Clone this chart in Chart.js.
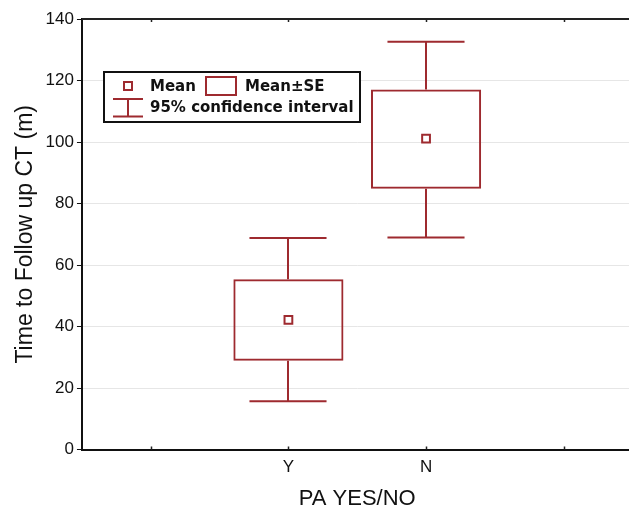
<!DOCTYPE html>
<html lang="en">
<head>
<meta charset="UTF-8">
<title>Time to Follow up CT</title>
<script src="https://cdn.jsdelivr.net/npm/chart.js@4.4.1/dist/chart.umd.min.js"></script>
<style>
    html, body { margin: 0; padding: 0; background: #fff; overflow: hidden; }
    /* plot runs past the right edge of the window, as in the original */
    .chart-wrap { position: relative; width: 640px; height: 507px; }
</style>
</head>
<body>
<div class="chart-wrap"><canvas id="ciChart"></canvas></div>
<script>
// --- data ---
const groups = ['', 'Y', 'N', ''];
const means  = [null, 42.2, 101.1, null];
const seLow  = [null, 28.9, 84.8, null];
const seHigh = [null, 55.4, 117.1, null];
const ciLow  = [null, 15.7, 69.0, null];
const ciHigh = [null, 68.8, 132.6, null];
const yMin = 0, yMax = 140, yStep = 20;

const RED = '#9e2a2f';
const AXIS_FONT = '"Liberation Sans", Arial, sans-serif';

// whiskers (95% CI) drawn from the scales
const whiskers = {
    id: 'whiskers',
    afterDatasetsDraw(chart) {
        const { ctx, scales: { x, y } } = chart;
        const bars = chart.getDatasetMeta(0).data;
        ctx.save();
        ctx.strokeStyle = RED;
        ctx.lineWidth = 2;
        groups.forEach((g, i) => {
            if (ciLow[i] == null) return;
            const cx = Math.round(x.getPixelForValue(i));
            const half = bars[i].width * 0.35;
            const yHi = y.getPixelForValue(ciHigh[i]);
            const yLo = y.getPixelForValue(ciLow[i]);
            ctx.beginPath();
            ctx.moveTo(cx, y.getPixelForValue(seHigh[i])); ctx.lineTo(cx, yHi);
            ctx.moveTo(cx - half, yHi); ctx.lineTo(cx + half, yHi);
            ctx.moveTo(cx, y.getPixelForValue(seLow[i])); ctx.lineTo(cx, yLo);
            ctx.moveTo(cx - half, yLo); ctx.lineTo(cx + half, yLo);
            ctx.stroke();
        });
        ctx.restore();
    }
};

// top frame line, inner ticks and the legend box
const frameAndLegend = {
    id: 'frameAndLegend',
    afterDraw(chart) {
        const { ctx, chartArea: a, scales: { x } } = chart;
        ctx.save();
        ctx.strokeStyle = '#222';
        ctx.lineWidth = 2;
        ctx.beginPath();
        ctx.moveTo(a.left, a.top); ctx.lineTo(a.right, a.top);
        ctx.stroke();
        ctx.lineWidth = 1.5;
        groups.forEach((g, i) => {
            const px = Math.round(x.getPixelForValue(i)) + 0.5;
            ctx.beginPath();
            ctx.moveTo(px, a.top); ctx.lineTo(px, a.top + 3);
            ctx.moveTo(px, a.bottom); ctx.lineTo(px, a.bottom - 3);
            ctx.stroke();
        });

        // legend
        ctx.fillStyle = '#fff';
        ctx.fillRect(104, 72, 256, 50);
        ctx.strokeStyle = '#111';
        ctx.lineWidth = 2;
        ctx.strokeRect(104, 72, 256, 50);

        ctx.strokeStyle = RED;
        ctx.lineWidth = 2;
        ctx.strokeRect(124, 82, 8, 8);
        ctx.strokeRect(206, 77, 30, 18);
        ctx.beginPath();
        ctx.moveTo(113, 99); ctx.lineTo(143, 99);
        ctx.moveTo(128, 99); ctx.lineTo(128, 116.5);
        ctx.moveTo(113, 116.5); ctx.lineTo(143, 116.5);
        ctx.stroke();

        ctx.fillStyle = '#111';
        ctx.font = 'bold 15px "DejaVu Sans", sans-serif';
        ctx.textBaseline = 'middle';
        ctx.fillText('Mean', 150, 87);
        ctx.fillText('Mean\u00B1SE', 245, 87);
        ctx.fillText('95% confidence interval', 150, 108);
        ctx.restore();
    }
};

const ctx = document.getElementById('ciChart').getContext('2d');
new Chart(ctx, {
    data: {
        labels: groups,
        datasets: [
            {
                type: 'bar',
                label: 'Mean\u00B1SE',
                data: groups.map((g, i) => seLow[i] == null ? null : [seLow[i], seHigh[i]]),
                backgroundColor: 'rgba(0,0,0,0)',
                borderColor: RED,
                borderWidth: 2,
                borderSkipped: false,
                barPercentage: 0.8,
                categoryPercentage: 1,
                order: 2
            },
            {
                type: 'line',
                label: 'Mean',
                data: means,
                showLine: false,
                pointStyle: 'rect',
                pointRadius: 5.5,
                pointBorderWidth: 2,
                pointBackgroundColor: '#fff',
                pointBorderColor: RED,
                order: 1
            }
        ]
    },
    options: {
        responsive: true,
        maintainAspectRatio: false,
        animation: false,
        layout: { padding: { top: 19, left: 0, right: 6, bottom: -3 } },
        plugins: {
            legend: { display: false },
            tooltip: { enabled: false }
        },
        scales: {
            x: {
                type: 'category',
                offset: true,
                grid: { display: true, drawOnChartArea: false, drawTicks: false },
                border: { display: true, color: '#111', width: 2 },
                ticks: {
                    color: '#111',
                    padding: 8,
                    font: { family: AXIS_FONT, size: 17 }
                },
                title: {
                    display: true,
                    text: 'PA YES/NO',
                    color: '#111',
                    padding: { top: 2, bottom: 0 },
                    font: { family: AXIS_FONT, size: 22, lineHeight: 1 }
                }
            },
            y: {
                min: yMin,
                max: yMax,
                ticks: {
                    stepSize: yStep,
                    color: '#111',
                    padding: 3,
                    font: { family: AXIS_FONT, size: 17 }
                },
                grid: {
                    color: '#e6e6e6',
                    tickColor: '#111',
                    tickLength: 5,
                    lineWidth: 1
                },
                border: { display: true, color: '#111', width: 2 },
                title: {
                    display: true,
                    text: 'Time to Follow up CT (m)',
                    color: '#111',
                    padding: { top: 12, bottom: 3 },
                    font: { family: AXIS_FONT, size: 23 }
                }
            }
        }
    },
    plugins: [whiskers, frameAndLegend]
});
</script>
</body>
</html>
